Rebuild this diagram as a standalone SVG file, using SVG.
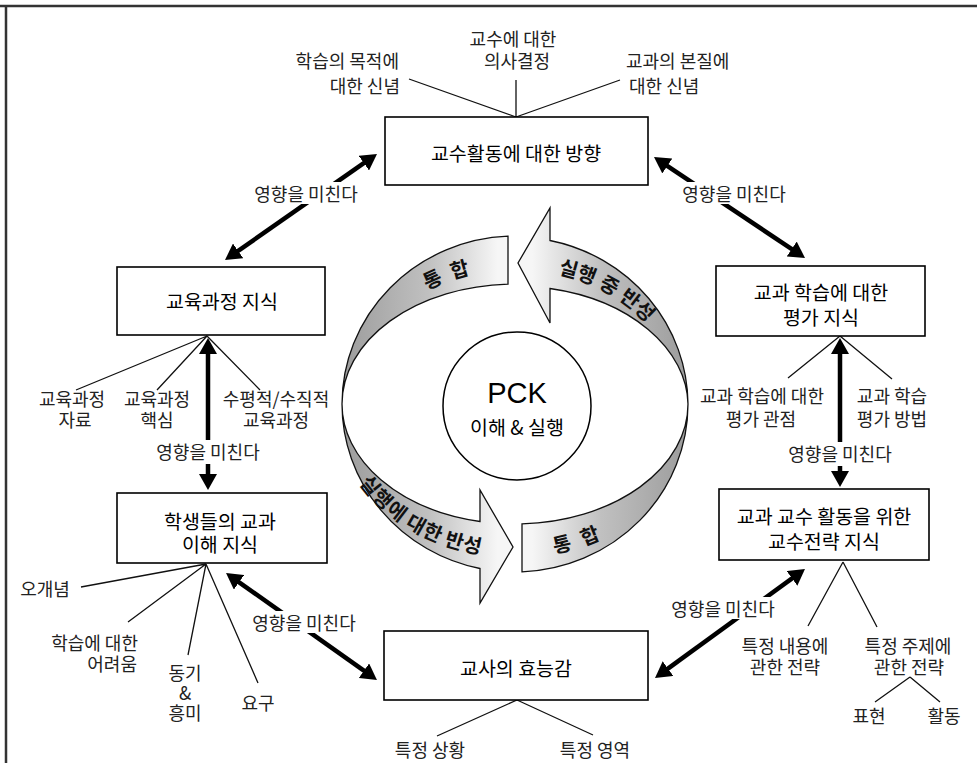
<svg xmlns="http://www.w3.org/2000/svg" width="977" height="763" viewBox="0 0 977 763">
<style>
  text { font-family: "Noto Sans CJK KR", "Noto Sans", sans-serif; }
  .lbl { font-size: 18px; fill: #222; text-anchor: middle; dominant-baseline: central; }
  .end { text-anchor: end; }
  .start { text-anchor: start; }
  .ttl { font-size: 19.5px; fill: #000; text-anchor: middle; dominant-baseline: central; }
  .box { fill: #fff; stroke: #000; stroke-width: 1.6; }
  .ln { stroke: #111; stroke-width: 1.3; fill: none; }
  .arr { stroke: #000; stroke-width: 4.5; fill: none; }
  .band { fill: url(#bandFill); stroke: #111; stroke-width: 1.3; stroke-linejoin: miter; }
  .bt { font-size: 20px; font-weight: bold; fill: #111; dominant-baseline: central; }
  .gap { fill: #fff; }
  .frame { stroke: #333; stroke-width: 2.5; fill: none; }
</style>
<defs>
  <marker id="head" viewBox="0 0 16 18" markerWidth="16" markerHeight="18" markerUnits="userSpaceOnUse" refX="6" refY="9" orient="auto-start-reverse">
    <path d="M0,0 L16,9 L0,18 Z" fill="#000"/>
  </marker>
  <linearGradient id="bandFill" gradientUnits="userSpaceOnUse" x1="342" y1="0" x2="688" y2="0">
    <stop offset="0" stop-color="#9c9c9c"/>
    <stop offset="0.25" stop-color="#c0c0c0"/>
    <stop offset="0.45" stop-color="#f6f6f6"/>
    <stop offset="0.55" stop-color="#f6f6f6"/>
    <stop offset="0.75" stop-color="#c0c0c0"/>
    <stop offset="1" stop-color="#9c9c9c"/>
  </linearGradient>
  <!-- centre lines of the ring, used to set the band captions -->
  <path id="midTop" d="M342,404 A173,144 0 0 1 688,404"/>
  <path id="midBottom" d="M342,404 A173,144 0 0 0 688,404"/>
</defs>

<rect width="977" height="763" fill="#fff"/>
<path class="frame" d="M0,6 H977 M6,6 V763"/>

<!-- central cycle -->
<g id="cycle">
  <path class="band" d="M342,404 A173,168 0 0 1 508,236.2 L508,284.1 A173,120 0 0 0 342,404 Z"/>
  <path class="band" d="M688,404 A173,168 0 0 0 550,240.5 L550,208 L518,263 L550,323 L550,288.5 A173,120 0 0 1 688,404 Z"/>
  <path class="band" d="M342,404 A173,168 0 0 0 480,568.5 L480,603 L513,547 L480,490 L480,521.5 A173,120 0 0 1 342,404 Z"/>
  <path class="band" d="M522,523.9 L522,571.9 A173,168 0 0 0 688,404 A173,120 0 0 1 522,523.9 Z"/>
  <text class="bt"><textPath href="#midTop" startOffset="36%" text-anchor="middle" letter-spacing="3">통 합</textPath></text>
  <text class="bt"><textPath href="#midTop" startOffset="70%" text-anchor="middle" letter-spacing="1">실행 중 반성</textPath></text>
  <text class="bt"><textPath href="#midBottom" startOffset="29.5%" text-anchor="middle">실행에 대한 반성</textPath></text>
  <text class="bt"><textPath href="#midBottom" startOffset="62.6%" text-anchor="middle" letter-spacing="3">통 합</textPath></text>
</g>

<g id="pck">
  <circle cx="517" cy="406" r="74" fill="#fff" stroke="#000" stroke-width="1.5"/>
  <text x="517" y="403" font-size="29" text-anchor="middle" fill="#000" style="font-family:'Liberation Sans',Arial,sans-serif">PCK</text>
  <text class="ttl" x="517" y="426">이해 &amp; 실행</text>
</g>

<!-- connectors -->
<g id="connectors">
  <path class="ln" d="M409,79 L516,117 M516,80 V117 M620,80 L516,117"/>
  <path class="ln" d="M207,336 L76,390 M207,336 L157,390 M207,336 L260,390"/>
  <path class="ln" d="M840,336 L788,378 M840,336 L892,379"/>
  <path class="ln" d="M206,564 L81,587 M206,564 L128,622 M206,564 L188,655 M206,564 L258,683"/>
  <path class="ln" d="M843,562 L808,626 M843,562 L877,627 M910,677 L875,702 M910,677 L940,702"/>
  <path class="ln" d="M517,700 L437,736 M517,700 L593,735"/>

  <path class="arr" d="M368.8,159.7 L233.2,254.3" marker-start="url(#head)" marker-end="url(#head)"/>
  <path class="arr" d="M662.3,162.6 L796.7,252.4" marker-start="url(#head)" marker-end="url(#head)"/>
  <path class="arr" d="M208,348 V480" marker-start="url(#head)" marker-end="url(#head)"/>
  <path class="arr" d="M840,348 V477" marker-start="url(#head)" marker-end="url(#head)"/>
  <path class="arr" d="M234.2,578.8 L368.8,674.2" marker-start="url(#head)" marker-end="url(#head)"/>
  <path class="arr" d="M796.9,574.9 L663.1,672.1" marker-start="url(#head)" marker-end="url(#head)"/>

  <rect class="gap" x="248" y="182" width="116" height="22"/>
  <text class="lbl" x="306" y="193">영향을 미친다</text>
  <rect class="gap" x="676" y="182" width="116" height="22"/>
  <text class="lbl" x="734" y="193">영향을 미친다</text>
  <rect class="gap" x="150" y="440" width="116" height="24"/>
  <text class="lbl" x="208" y="451">영향을 미친다</text>
  <rect class="gap" x="782" y="442" width="116" height="24"/>
  <text class="lbl" x="840" y="453">영향을 미친다</text>
  <rect class="gap" x="246" y="611" width="116" height="22"/>
  <text class="lbl" x="304" y="622">영향을 미친다</text>
  <rect class="gap" x="665" y="597" width="116" height="22"/>
  <text class="lbl" x="723" y="608">영향을 미친다</text>
</g>

<!-- boxes -->
<g id="direction">
  <rect class="box" x="385" y="117" width="263" height="68"/>
  <text class="ttl" x="516" y="152">교수활동에 대한 방향</text>
</g>
<g id="curriculum">
  <rect class="box" x="117" y="267" width="208" height="68"/>
  <text class="ttl" x="222" y="300">교육과정 지식</text>
</g>
<g id="assessment">
  <rect class="box" x="716" y="266" width="209" height="70"/>
  <text class="ttl"><tspan x="821" y="291">교과 학습에 대한</tspan><tspan x="821" y="316">평가 지식</tspan></text>
</g>
<g id="students">
  <rect class="box" x="117" y="493" width="210" height="70"/>
  <text class="ttl"><tspan x="220" y="520">학생들의 교과</tspan><tspan x="220" y="543">이해 지식</tspan></text>
</g>
<g id="strategy">
  <rect class="box" x="719" y="489" width="210" height="71"/>
  <text class="ttl"><tspan x="824" y="515">교과 교수 활동을 위한</tspan><tspan x="824" y="540">교수전략 지식</tspan></text>
</g>
<g id="efficacy">
  <rect class="box" x="384" y="631" width="264" height="69"/>
  <text class="ttl" x="516" y="667">교사의 효능감</text>
</g>

<!-- leaf labels -->
<g id="direction-labels">
  <text class="lbl end"><tspan x="399" y="60">학습의 목적에</tspan><tspan x="400" y="85">대한 신념</tspan></text>
  <text class="lbl"><tspan x="513" y="38">교수에 대한</tspan><tspan x="517" y="60">의사결정</tspan></text>
  <text class="lbl start"><tspan x="626" y="60">교과의 본질에</tspan><tspan x="629" y="85">대한 신념</tspan></text>
</g>
<g id="curriculum-labels">
  <text class="lbl"><tspan x="72" y="398">교육과정</tspan><tspan x="75" y="419">자료</tspan></text>
  <text class="lbl"><tspan x="157" y="398">교육과정</tspan><tspan x="157" y="419">핵심</tspan></text>
  <text class="lbl"><tspan x="276" y="398">수평적/수직적</tspan><tspan x="276" y="419">교육과정</tspan></text>
</g>
<g id="assessment-labels">
  <text class="lbl"><tspan x="762" y="395">교과 학습에 대한</tspan><tspan x="761" y="418">평가 관점</tspan></text>
  <text class="lbl"><tspan x="892" y="395">교과 학습</tspan><tspan x="892" y="418">평가 방법</tspan></text>
</g>
<g id="student-labels">
  <text class="lbl" x="45" y="588">오개념</text>
  <text class="lbl end"><tspan x="138" y="642">학습에 대한</tspan><tspan x="137" y="663">어려움</tspan></text>
  <text class="lbl"><tspan x="185" y="672">동기</tspan><tspan x="185" y="692">&amp;</tspan><tspan x="185" y="712">흥미</tspan></text>
  <text class="lbl" x="258" y="702">요구</text>
</g>
<g id="strategy-labels">
  <text class="lbl"><tspan x="785" y="645">특정 내용에</tspan><tspan x="785" y="666">관한 전략</tspan></text>
  <text class="lbl"><tspan x="908" y="645">특정 주제에</tspan><tspan x="909" y="666">관한 전략</tspan></text>
  <text class="lbl" x="869" y="715">표현</text>
  <text class="lbl" x="944" y="715">활동</text>
</g>
<g id="efficacy-labels">
  <text class="lbl" x="430" y="749">특정 상황</text>
  <text class="lbl" x="595" y="749">특정 영역</text>
</g>
</svg>
